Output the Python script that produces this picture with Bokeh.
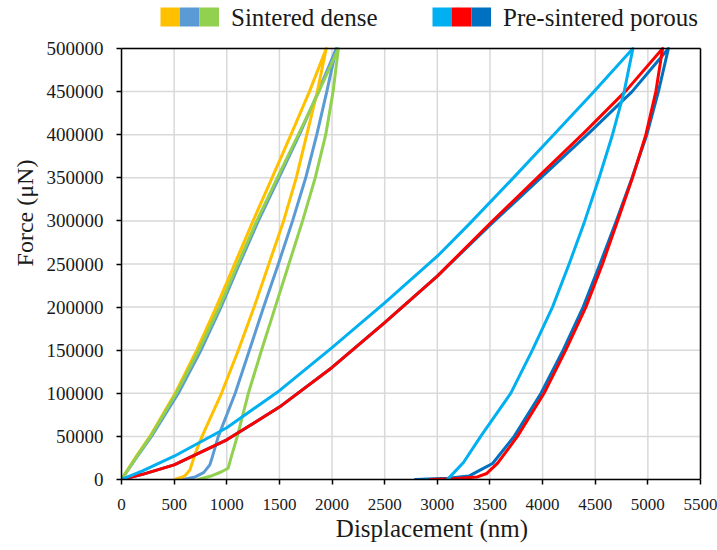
from bokeh.plotting import figure
from bokeh.models import Range1d, FixedTicker, BasicTickFormatter
from bokeh.embed import file_html
from bokeh.resources import INLINE
from bokeh.core.properties import value

FONT = "Liberation Serif"
NBSP = "\u00a0"

# Axis ticks
x_ticks = [0, 500, 1000, 1500, 2000, 2500, 3000, 3500, 4000, 4500, 5000, 5500]
y_ticks = [0, 50000, 100000, 150000, 200000, 250000, 300000, 350000,
           400000, 450000, 500000]
X_MAX, Y_MAX = x_ticks[-1], y_ticks[-1]

# ---- Sintered dense samples: displacement (nm) / force (uN) ----
# loading branches
dense_load_f = [0, 25000, 50000, 100000, 150000, 200000, 250000, 300000,
                350000, 400000, 450000, 500000]
orange_load_d = [0, 130, 270, 510, 715, 900, 1075, 1250, 1430, 1610, 1785, 1945]
blue_load_d = [0, 140, 285, 540, 755, 945, 1120, 1300, 1495, 1690, 1870, 2040]
green_load_d = [0, 135, 275, 520, 735, 930, 1105, 1285, 1480, 1680, 1875, 2060]

# unloading branches
orange_unload_d = [1945, 1860, 1760, 1660, 1540, 1400, 1260, 1110, 950, 765, 700, 650, 600, 507]
orange_unload_f = [500000, 450000, 400000, 350000, 300000, 250000, 200000, 150000,
                   100000, 50000, 30000, 11000, 4000, 0]
blue_unload_d = [2040, 1950, 1855, 1750, 1625, 1490, 1350, 1215, 1080, 920, 860, 839, 780, 700, 586]
blue_unload_f = [500000, 450000, 400000, 350000, 300000, 250000, 200000, 150000,
                 100000, 50000, 25000, 17000, 8000, 3000, 0]
green_unload_d = [2060, 2010, 1940, 1840, 1720, 1590, 1460, 1330, 1205, 1100, 1040, 1013, 950, 850, 728]
green_unload_f = [500000, 450000, 400000, 350000, 300000, 250000, 200000, 150000,
                  100000, 50000, 25000, 13000, 9000, 4000, 0]

# ---- Pre-sintered porous samples ----
cyan_load_d = [0, 200, 500, 1000, 1500, 2000, 2500, 3000, 3300, 3700, 4090, 4480, 4858]
cyan_load_f = [0, 10000, 27000, 60000, 103000, 153000, 205000, 259000, 296000,
               347000, 398000, 449000, 500000]
red_load_d = [0, 200, 500, 1000, 1500, 2000, 2500, 3000, 3500, 4000, 4400, 4800, 5140]
red_load_f = [0, 6000, 17000, 46000, 84000, 130000, 182000, 236000, 297000,
              356000, 403000, 452000, 500000]
navy_load_d = [0, 200, 500, 1000, 1500, 2000, 2500, 3000, 3500, 4000, 4450, 4850, 5195]
navy_load_f = [0, 6000, 17000, 46000, 84000, 130000, 182000, 236000, 295000,
               352000, 403000, 450000, 500000]

cyan_unload_d = [4858, 4775, 4664, 4537, 4401, 4252, 4094, 3903, 3697, 3412, 3250, 3158, 3095]
cyan_unload_f = [500000, 450000, 400000, 350000, 300000, 250000, 200000, 150000,
                 100000, 50000, 20000, 8000, 0]
red_unload_d = [5140, 5076, 4981, 4854, 4712, 4569, 4411, 4220, 4014, 3761, 3571, 3470, 3380, 3150, 2935]
red_unload_f = [500000, 450000, 400000, 350000, 300000, 250000, 200000, 150000,
                100000, 50000, 18600, 7000, 3000, 1000, 0]
navy_unload_d = [5195, 5100, 4990, 4850, 4700, 4545, 4385, 4195, 3985, 3730, 3525, 3406, 3300, 3100, 2790]
navy_unload_f = [500000, 450000, 400000, 350000, 300000, 250000, 200000, 150000,
                 100000, 50000, 18600, 10800, 4000, 1500, 0]

ORANGE, LBLUE, GREEN = "#FFC000", "#5B9BD5", "#92D050"
CYAN, RED, NAVY = "#00B0F0", "#FF0000", "#0070C0"

group_labels = ["Sintered dense", "Pre-sintered porous"]
x_title = "Displacement (nm)"
y_title = "Force (\u03bcN)"

# Canvas geometry: plot box from x=121..700 px, y=48..479 px. The frame is
# stretched to the canvas top/right so the key can sit above the plot box.
W, H = 717, 550
BOX_L, BOX_R, BOX_T, BOX_B = 121, 700, 48, 479
sx = X_MAX / (BOX_R - BOX_L)          # data units per pixel
sy = Y_MAX / (BOX_B - BOX_T)


def px_x(cx):
    return (cx - BOX_L) * sx


def px_y(cy):
    return (BOX_B - cy) * sy


p = figure(width=W, height=H,
           x_range=Range1d(0, px_x(W)), y_range=Range1d(0, px_y(0)),
           toolbar_location=None, output_backend="svg",
           min_border_left=BOX_L, min_border_right=0, min_border_top=0,
           min_border_bottom=H - BOX_B)
p.title.visible = False
p.outline_line_color = None
p.background_fill_color = "white"
p.border_fill_color = "white"
p.xgrid.visible = False
p.ygrid.visible = False

p.xaxis.ticker = FixedTicker(ticks=x_ticks)
p.yaxis.ticker = FixedTicker(ticks=y_ticks)
p.yaxis.formatter = BasicTickFormatter(use_scientific=False)
p.xaxis.formatter = BasicTickFormatter(use_scientific=False)
p.xaxis.bounds = (0, X_MAX)
p.yaxis.bounds = (0, Y_MAX)

p.axis.axis_line_color = "black"
p.axis.axis_line_width = 1.5
p.axis.major_tick_line_color = "black"
p.axis.major_tick_line_width = 1.5
p.axis.major_tick_out = 5
p.axis.major_tick_in = 0
p.axis.minor_tick_line_color = None
p.axis.major_label_text_font = FONT
p.axis.major_label_text_color = "#1a1a1a"
p.yaxis.major_label_text_font_size = "19px"
p.yaxis.major_label_standoff = 13
p.xaxis.major_label_text_font_size = "17px"
p.xaxis.major_label_standoff = 14

# axis titles; leading no-break spaces nudge them off the frame centre
p.axis.axis_label_text_font = FONT
p.axis.axis_label_text_font_style = "normal"
p.axis.axis_label_text_color = "#1a1a1a"
p.xaxis.axis_label = NBSP * 4 + x_title
p.xaxis.axis_label_text_font_size = "25px"
p.xaxis.axis_label_standoff = 2
p.yaxis.axis_label = NBSP * 9 + y_title
p.yaxis.axis_label_text_font_size = "24px"
p.yaxis.axis_label_standoff = 6

# gridlines of the plot box
p.segment(x0=x_ticks, y0=0, x1=x_ticks, y1=Y_MAX, line_color="#D9D9D9", line_width=1.5)
p.segment(x0=0, y0=y_ticks, x1=X_MAX, y1=y_ticks, line_color="#D9D9D9", line_width=1.5)

series = [
    (LBLUE, blue_load_d, dense_load_f, blue_unload_d, blue_unload_f),
    (ORANGE, orange_load_d, dense_load_f, orange_unload_d, orange_unload_f),
    (GREEN, green_load_d, dense_load_f, green_unload_d, green_unload_f),
    (NAVY, navy_load_d, navy_load_f, navy_unload_d, navy_unload_f),
    (RED, red_load_d, red_load_f, red_unload_d, red_unload_f),
    (CYAN, cyan_load_d, cyan_load_f, cyan_unload_d, cyan_unload_f),
]
for color, ld, lf, ud, uf in series:
    p.line(ld + ud[1:], lf + uf[1:], line_color=color, line_width=3,
           line_join="round", line_cap="round")

# top and right edges of the plot box
p.segment(x0=[0, X_MAX], y0=[Y_MAX, 0], x1=[X_MAX, X_MAX], y1=[Y_MAX, Y_MAX],
          line_color="black", line_width=1.5)

# key: three colour squares per group, then the group name
swatch_colors = [[ORANGE, LBLUE, GREEN], [CYAN, RED, NAVY]]
group_left_px = [160, 432]
sw = 19.5
for left, cols, label in zip(group_left_px, swatch_colors, group_labels):
    xs = [px_x(left + sw * (i + 0.5)) for i in range(3)]
    p.rect(x=xs, y=px_y(16.5), width=sw, height=19, width_units="screen",
           height_units="screen", fill_color=cols, line_color=None)
    p.text(x=[px_x(left + 3 * sw + 12)], y=[px_y(17)], text=[label],
           text_font=value(FONT), text_font_size="25px", text_baseline="middle",
           text_align="left", text_color="#1a1a1a")

open("out.html", "w").write(file_html(p, INLINE))
